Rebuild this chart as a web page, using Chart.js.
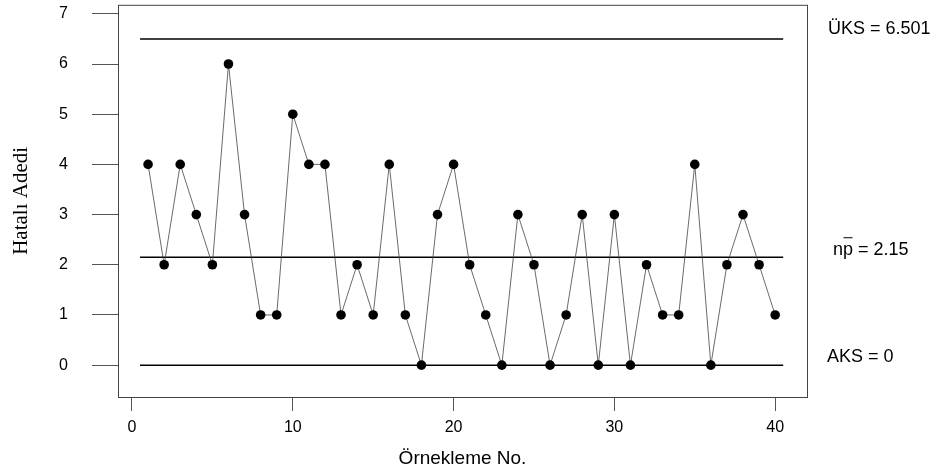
<!DOCTYPE html>
<html>
<head>
<meta charset="utf-8">
<script src="https://cdn.jsdelivr.net/npm/chart.js@4/dist/chart.umd.min.js"></script>
<style>
  html, body { margin: 0; padding: 0; background: #fff; }
  #wrap { width: 941px; height: 474px; }
</style>
</head>
<body>
<div id="wrap"><canvas id="npChart" width="941" height="474"></canvas></div>
<script>
// sample numbers and defect counts
const samples = [];
for (let i = 1; i <= 40; i++) samples.push(i);
const defects = [4,2,4,3,2,6,3,1,1,5, 4,4,1,2,1,4,1,0,3,4, 2,1,0,3,2,0,1,3,0,3, 0,2,1,1,4,0,2,3,2,1];

// control limits
const limitNames = ['ÜKS = 6.501', 'np = 2.15', 'AKS = 0'];
const limitValues = [6.501, 2.15, 0];
const limitSpan = [0.5, 40.5];

const xTicks = [0, 10, 20, 30, 40];
const yTicks = [0, 1, 2, 3, 4, 5, 6, 7];

const pts = samples.map((s, i) => ({ x: s, y: defects[i] }));

const limitSets = limitValues.map(v => ({
    type: 'line',
    data: [{ x: limitSpan[0], y: v }, { x: limitSpan[1], y: v }],
    borderColor: '#000',
    borderWidth: 1.5,
    pointRadius: 0,
    fill: false
}));

const sans = "'Liberation Sans', Arial, sans-serif";
const labelX = [828, 833, 827];
const labelLift = [5, 2, 3];

const boxAndLabels = {
    id: 'boxAndLabels',
    afterDraw(chart) {
        const c = chart.ctx;
        const a = chart.chartArea;
        c.save();
        c.strokeStyle = '#444';
        c.lineWidth = 1;
        c.strokeRect(a.left + 0.5, a.top + 0.5, a.right - a.left, a.bottom - a.top);
        const ys = chart.scales.y;
        c.fillStyle = '#000';
        c.font = '18px ' + sans;
        c.textBaseline = 'alphabetic';
        c.textAlign = 'left';
        limitNames.forEach((t, i) => {
            const py = ys.getPixelForValue(limitValues[i]) - labelLift[i];
            c.fillText(t, labelX[i], py);
            if (i === 1) {
                // bar over the p
                const wn = c.measureText('n').width;
                const wp = c.measureText('np').width;
                c.strokeStyle = '#000';
                c.lineWidth = 1;
                c.beginPath();
                c.moveTo(labelX[i] + wn + 0.5, py - 17.5);
                c.lineTo(labelX[i] + wp - 0.5, py - 17.5);
                c.stroke();
            }
        });
        c.restore();
    }
};

const ctx = document.getElementById('npChart').getContext('2d');
const npChart = new Chart(ctx, {
    type: 'line',
    data: {
        datasets: [{
            data: pts,
            borderColor: '#444',
            borderWidth: 0.8,
            pointRadius: 4.8,
            pointBackgroundColor: '#000',
            pointBorderColor: '#000',
            pointBorderWidth: 0,
            fill: false,
            tension: 0
        }].concat(limitSets)
    },
    options: {
        responsive: false,
        animation: false,
        layout: { padding: { top: 3, right: 134, left: 0, bottom: 0 } },
        plugins: { legend: { display: false }, tooltip: { enabled: false } },
        scales: {
            x: {
                type: 'linear',
                min: -0.87,
                max: 41.98,
                afterBuildTicks: s => { s.ticks = xTicks.map(v => ({ value: v })); },
                afterFit: s => { s.height = 77; },
                border: { display: false },
                grid: { drawOnChartArea: false, drawTicks: true, tickLength: 14, color: '#555' },
                ticks: { color: '#000', font: { size: 16, family: sans }, padding: 7, maxRotation: 0 },
                title: { display: true, text: 'Örnekleme No.', color: '#000', font: { size: 19, family: sans }, padding: { top: 2 } }
            },
            y: {
                min: -0.635,
                max: 7.18,
                afterBuildTicks: s => { s.ticks = yTicks.map(v => ({ value: v })); },
                afterFit: s => { s.width = 118; s.paddingTop = 0; s.paddingBottom = 0; },
                border: { display: false },
                grid: { drawOnChartArea: false, drawTicks: true, tickLength: 26, color: '#555' },
                ticks: { color: '#000', font: { size: 16, family: sans }, padding: 24 },
                title: { display: true, text: 'Hatalı Adedi', color: '#000', font: { size: 21, family: "'Liberation Serif', 'Times New Roman', serif" }, padding: { top: 9, bottom: 0 } }
            }
        }
    },
    plugins: [boxAndLabels]
});
</script>
</body>
</html>
